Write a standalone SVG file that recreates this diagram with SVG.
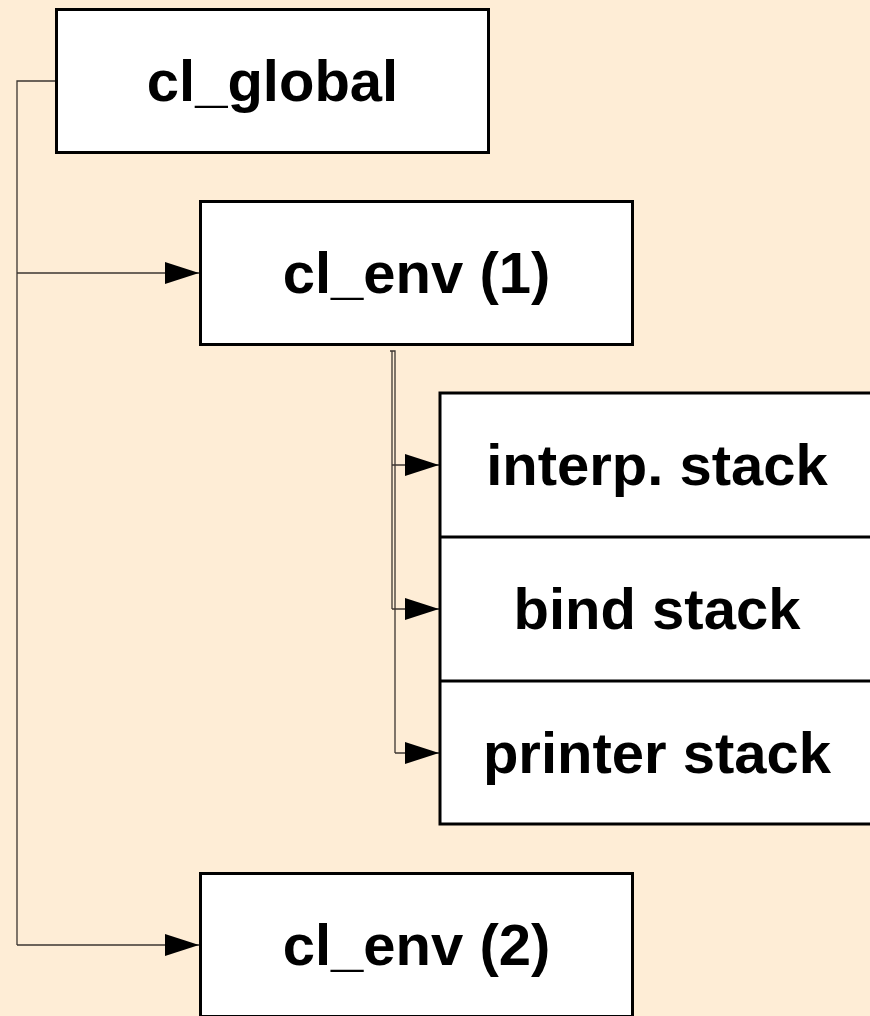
<svg xmlns="http://www.w3.org/2000/svg" width="870" height="1016" viewBox="0 0 870 1016">
  <style>
    .box { fill: #ffffff; stroke: #000000; stroke-width: 3; }
    .label { font-family: "Liberation Sans", Arial, sans-serif; font-weight: bold; font-size: 58px; fill: #000000; text-anchor: middle; }
    .wire { fill: none; stroke: #3b3530; stroke-width: 1.3; }
  </style>
  <defs>
    <marker id="arrow" markerUnits="userSpaceOnUse" markerWidth="34" markerHeight="22" viewBox="0 0 34 22" refX="34" refY="11" orient="auto">
      <path d="M0,0 L34,11 L0,22 Z" fill="#000000"/>
    </marker>
  </defs>

  <rect width="870" height="1016" fill="#feedd6"/>

  <g id="connectors">
    <path class="wire" d="M56,81 H17 V945"/>
    <path class="wire" d="M17,273 H199" marker-end="url(#arrow)"/>
    <path class="wire" d="M17,945 H199" marker-end="url(#arrow)"/>
    <path class="wire" d="M390,351 H395 V753"/>
    <path class="wire" d="M392,351 V609"/>
    <path class="wire" d="M392,465 H439" marker-end="url(#arrow)"/>
    <path class="wire" d="M392,609 H439" marker-end="url(#arrow)"/>
    <path class="wire" d="M395,753 H439" marker-end="url(#arrow)"/>
  </g>

  <g id="cl_global">
    <rect class="box" x="56.5" y="9.5" width="432" height="143"/>
    <text class="label" x="272.5" y="101">cl_global</text>
  </g>

  <g id="cl_env_1">
    <rect class="box" x="200.5" y="201.5" width="432" height="143"/>
    <text class="label" x="416.5" y="293">cl_env (1)</text>
  </g>

  <g id="stacks">
    <rect class="box" x="440" y="393" width="434" height="431"/>
    <line x1="440" y1="537" x2="874" y2="537" stroke="#000" stroke-width="3"/>
    <line x1="440" y1="681" x2="874" y2="681" stroke="#000" stroke-width="3"/>
    <text class="label" x="657" y="485">interp. stack</text>
    <text class="label" x="657" y="629">bind stack</text>
    <text class="label" x="657" y="773">printer stack</text>
  </g>

  <g id="cl_env_2">
    <rect class="box" x="200.5" y="873.5" width="432" height="143"/>
    <text class="label" x="416.5" y="965">cl_env (2)</text>
  </g>
</svg>
